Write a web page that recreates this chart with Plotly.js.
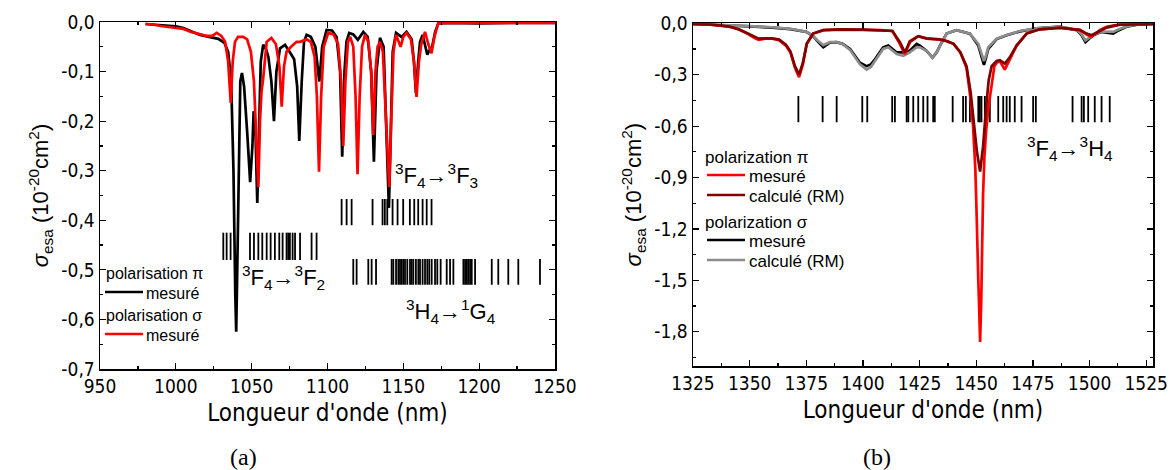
<!DOCTYPE html>
<html>
<head>
<meta charset="utf-8">
<script src="https://cdn.plot.ly/plotly-3.0.1.min.js"></script>
<style>html,body{margin:0;padding:0;background:#fff;}#chart{width:1170px;height:470px;}</style>
</head>
<body>
<div id="chart"></div>
<script>
// ---------- Panel (a): 950–1250 nm ----------
const lambdaPiA = [980,990,1000,1005,1010,1016,1022,1028,1032,1034.5,1036.5,1038,1039.2,1039.8,1040.5,1041.5,1042.5,1043.6,1045,1047,1049,1050.5,1051.3,1052.5,1053.7,1055,1056,1057.6,1059.5,1061,1063,1064.7,1066.3,1068.7,1072,1075,1078,1080,1081.4,1083,1084.5,1086.2,1089,1092,1094.6,1096.5,1099.4,1103,1106,1108.3,1109.7,1111.2,1112.5,1114.3,1117,1120,1123.6,1126.5,1128.8,1130.6,1132.3,1134.6,1137,1138.6,1139.5,1140.5,1141.5,1143,1145.2,1148.8,1152.1,1155.5,1157,1158.3,1159.8,1161,1162.7,1164.3,1165.8,1167.5,1169,1171,1173,1180,1200,1220,1250];
const sigmaPiA  = [-0.004,-0.006,-0.009,-0.012,-0.018,-0.026,-0.03,-0.034,-0.042,-0.06,-0.12,-0.3,-0.55,-0.625,-0.5,-0.25,-0.12,-0.103,-0.13,-0.22,-0.323,-0.25,-0.18,-0.22,-0.365,-0.2,-0.08,-0.046,-0.055,-0.07,-0.12,-0.2,-0.1,-0.053,-0.046,-0.06,-0.075,-0.13,-0.24,-0.12,-0.04,-0.026,-0.03,-0.05,-0.12,-0.05,-0.016,-0.017,-0.03,-0.1,-0.272,-0.1,-0.04,-0.022,-0.025,-0.036,-0.02,-0.03,-0.1,-0.282,-0.1,-0.032,-0.05,-0.2,-0.3,-0.375,-0.25,-0.06,-0.022,-0.03,-0.02,-0.035,-0.08,-0.143,-0.08,-0.04,-0.026,-0.045,-0.066,-0.055,-0.05,-0.02,-0.003,-0.002,-0.003,-0.002,-0.002];

const lambdaSigmaA = [980,985,990,995,1000,1005,1010,1016,1020,1024,1027,1030,1032.5,1034.5,1036.2,1037.5,1039,1041,1044.5,1047,1049.5,1051.5,1053,1054.4,1055.5,1056.5,1057.5,1058.7,1059.9,1063,1066,1068.3,1069.8,1071.3,1073,1076,1079.6,1082,1086.2,1089,1091.5,1093,1094.4,1095.8,1097.5,1100.5,1104,1107,1109,1110.4,1111.8,1113.5,1115,1117,1118.5,1119.8,1121.2,1122.8,1124.7,1127,1128.8,1130.2,1131.6,1133,1134.6,1136.5,1138,1139.4,1140.7,1142,1143.5,1145.2,1146.5,1148.2,1150,1152.1,1155,1157,1158.7,1160.3,1161.8,1164.3,1166.5,1168.6,1170.5,1173,1180,1200,1220,1250];
const sigmaSigmaA  = [-0.004,-0.005,-0.008,-0.01,-0.012,-0.014,-0.02,-0.025,-0.028,-0.028,-0.022,-0.028,-0.04,-0.08,-0.163,-0.08,-0.04,-0.03,-0.03,-0.035,-0.06,-0.12,-0.25,-0.333,-0.2,-0.14,-0.117,-0.07,-0.04,-0.032,-0.045,-0.09,-0.171,-0.09,-0.06,-0.05,-0.04,-0.04,-0.035,-0.04,-0.07,-0.15,-0.302,-0.15,-0.05,-0.022,-0.025,-0.045,-0.12,-0.25,-0.12,-0.04,-0.03,-0.05,-0.15,-0.307,-0.15,-0.05,-0.026,-0.04,-0.1,-0.228,-0.1,-0.05,-0.04,-0.06,-0.15,-0.254,-0.333,-0.2,-0.06,-0.026,-0.035,-0.05,-0.03,-0.022,-0.035,-0.08,-0.151,-0.08,-0.045,-0.02,-0.045,-0.063,-0.03,-0.003,-0.002,-0.002,-0.002,-0.002];

// transition positions (nm)
const lines3F2 = [1031.3,1033.5,1036.1,1048.9,1051.5,1054.4,1057.0,1059.9,1062.5,1065.3,1068.2,1070.4,1073.0,1074.1,1075.2,1077.0,1078.6,1081.9,1089.5,1092.8];
const lines3F3 = [1109.3,1112.6,1115.9,1129.7,1136.3,1137.8,1139.4,1142.9,1146.2,1149.9,1154.3,1157.2,1159.8,1162.7,1165.4,1168.6];
const lines1G4 = [1117.0,1119.2,1126.9,1129.1,1132.0,1142.3,1143.4,1145.2,1146.7,1147.8,1148.9,1150.0,1151.1,1152.6,1154.4,1155.5,1156.6,1158.3,1159.9,1161.0,1162.7,1164.3,1165.8,1167.1,1168.7,1170.9,1172.4,1174.6,1178.6,1180.8,1183.0,1189.6,1190.7,1191.8,1192.8,1194.0,1195.1,1197.3,1208.3,1212.6,1219.2,1225.8,1240.1];

const yTickValsA = [0,-0.1,-0.2,-0.3,-0.4,-0.5,-0.6,-0.7];
const yTickTextA = ["0,0","-0,1","-0,2","-0,3","-0,4","-0,5","-0,6","-0,7"];

// ---------- Panel (b): 1325–1525 nm ----------
const lambdaPiMesB = [1325,1333,1341,1345,1349,1352,1354,1357,1360,1363,1366,1368,1370,1371.8,1373.5,1375.2,1378,1382.5,1390,1400,1408,1413,1416.3,1418.5,1420.7,1424.4,1428.1,1434,1437,1440,1443,1445.7,1447.3,1448.6,1449.6,1450.2,1450.5,1450.9,1451.2,1451.7,1452.2,1452.6,1453.0,1453.6,1454.4,1455.5,1456.8,1458,1459,1460.4,1462.6,1464.7,1467.8,1472.2,1478,1487,1495.7,1498.7,1500.9,1504.5,1507.5,1513.4,1528];
const sigmaPiMesB  = [-0.004,-0.008,-0.02,-0.035,-0.06,-0.085,-0.096,-0.09,-0.09,-0.098,-0.13,-0.17,-0.26,-0.314,-0.24,-0.12,-0.06,-0.04,-0.037,-0.038,-0.04,-0.045,-0.12,-0.18,-0.11,-0.075,-0.09,-0.096,-0.105,-0.12,-0.17,-0.26,-0.42,-0.6,-0.85,-1.13,-1.42,-1.5,-1.62,-1.86,-1.62,-1.3,-1.0,-0.78,-0.62,-0.48,-0.345,-0.25,-0.23,-0.22,-0.27,-0.21,-0.13,-0.06,-0.035,-0.027,-0.04,-0.066,-0.08,-0.04,-0.02,-0.006,-0.003];

const lambdaPiCalB = [1325,1333,1341,1345,1349,1352,1354,1357,1360,1363,1366,1368,1370,1371.8,1373.5,1375.2,1378,1382.5,1390,1400,1408,1413,1416.3,1418.5,1420.7,1424.4,1428.1,1434,1437,1440,1443,1445.7,1447.5,1449,1450.3,1451.7,1453,1454.3,1455.5,1456.8,1458,1459,1460.4,1462.6,1464.7,1467.8,1472.2,1478,1487,1495.7,1498.7,1500.9,1504.5,1507.5,1513.4,1528];
const sigmaPiCalB  = [-0.003,-0.007,-0.019,-0.034,-0.058,-0.08,-0.09,-0.088,-0.088,-0.095,-0.125,-0.165,-0.25,-0.3,-0.23,-0.12,-0.06,-0.04,-0.036,-0.037,-0.04,-0.045,-0.11,-0.17,-0.105,-0.075,-0.088,-0.094,-0.103,-0.12,-0.17,-0.25,-0.4,-0.6,-0.75,-0.865,-0.72,-0.5,-0.33,-0.25,-0.23,-0.22,-0.215,-0.235,-0.2,-0.13,-0.06,-0.035,-0.026,-0.038,-0.06,-0.07,-0.045,-0.025,-0.008,-0.003];

const lambdaSigB = [1325,1335,1350,1360,1368,1375,1378,1380,1382.5,1385.4,1388.4,1391,1394.3,1398.7,1401.6,1403.5,1405.3,1408.9,1411.2,1414.9,1417.8,1420.7,1423.7,1425.1,1428,1430.7,1432.5,1434,1436.9,1441.3,1447.2,1450.9,1452.5,1453.4,1454.3,1455.3,1459,1463.4,1469.3,1476.6,1486.9,1494.3,1496.5,1498.2,1499.8,1501.6,1505.3,1508,1510.4,1513,1516.3,1521,1528];
const sigmaSigMesB = [-0.004,-0.008,-0.018,-0.025,-0.034,-0.05,-0.075,-0.105,-0.14,-0.113,-0.11,-0.12,-0.15,-0.23,-0.25,-0.24,-0.21,-0.14,-0.13,-0.17,-0.17,-0.16,-0.12,-0.13,-0.16,-0.2,-0.17,-0.13,-0.06,-0.04,-0.06,-0.13,-0.2,-0.243,-0.2,-0.15,-0.092,-0.07,-0.047,-0.03,-0.02,-0.04,-0.07,-0.11,-0.09,-0.07,-0.05,-0.055,-0.06,-0.04,-0.02,-0.008,-0.004];
const sigmaSigCalB = [-0.003,-0.007,-0.016,-0.023,-0.032,-0.05,-0.075,-0.1,-0.127,-0.11,-0.11,-0.12,-0.155,-0.24,-0.27,-0.255,-0.22,-0.15,-0.14,-0.18,-0.19,-0.17,-0.14,-0.14,-0.16,-0.2,-0.17,-0.13,-0.06,-0.04,-0.06,-0.12,-0.19,-0.22,-0.19,-0.14,-0.09,-0.068,-0.045,-0.03,-0.02,-0.038,-0.065,-0.1,-0.085,-0.068,-0.048,-0.05,-0.05,-0.035,-0.018,-0.007,-0.003];

const lines3H4 = [1371.5,1382.2,1388.4,1399.7,1401.9,1412.9,1414.1,1419.3,1420.0,1422.2,1424.4,1426.6,1428.5,1431.0,1431.7,1439.6,1444.2,1445.4,1447.2,1450.9,1451.6,1452.3,1453.8,1456.0,1459.7,1461.9,1463.4,1464.8,1467.0,1470.0,1475.1,1476.3,1492.5,1496.5,1497.5,1499.4,1502.3,1505.3,1508.9];

const yTickValsB = [0,-0.3,-0.6,-0.9,-1.2,-1.5,-1.8];
const yTickTextB = ["0,0","-0,3","-0,6","-0,9","-1,2","-1,5","-1,8"];

// legend texts
const legendTextA = ["polarisation π", "mesuré", "polarisation σ", "mesuré"];
const legendTextB = ["polarization π", "mesuré", "calculé (RM)", "polarization σ", "mesuré", "calculé (RM)"];

// ---------- helpers ----------
function sticks(xs, y0, y1) {
  const x = [], y = [];
  xs.forEach(v => { x.push(v, v, null); y.push(y0, y1, null); });
  return {x, y};
}
const NARROW = '"Liberation Sans Narrow", "Arial Narrow", "DejaVu Sans Condensed", sans-serif';
const SANS = '"Liberation Sans", Arial, sans-serif';
const SERIF = '"Liberation Serif", "DejaVu Serif", serif';

// pixel -> paper helpers (plot area: x 100..1153, y 22..369)
const M = {l: 100, r: 17, t: 22, b: 101};
const PW = 1170 - M.l - M.r, PH = 470 - M.t - M.b;
const px = v => (v - M.l) / PW;
const py = v => (470 - M.b - v) / PH;

const s1 = sticks(lines3F2, -0.425, -0.48);
const s2 = sticks(lines3F3, -0.357, -0.41);
const s3 = sticks(lines1G4, -0.478, -0.53);
const s4 = sticks(lines3H4, -0.424, -0.578);

const COL = {piA: '#000000', sigA: '#ff0000', piMes: '#ff0000', piCal: '#800000', sigMes: '#000000', sigCal: '#8c8c8c'};
const stickStyle = {color: '#000', width: 1.8};
const W = 2.7;
const traces = [
  {x: s1.x, y: s1.y, xaxis: 'x', yaxis: 'y', mode: 'lines', line: stickStyle, hoverinfo: 'skip'},
  {x: s2.x, y: s2.y, xaxis: 'x', yaxis: 'y', mode: 'lines', line: stickStyle, hoverinfo: 'skip'},
  {x: s3.x, y: s3.y, xaxis: 'x', yaxis: 'y', mode: 'lines', line: stickStyle, hoverinfo: 'skip'},
  {x: lambdaPiA, y: sigmaPiA, xaxis: 'x', yaxis: 'y', mode: 'lines', name: 'polarisation π – mesuré', line: {color: COL.piA, width: W}},
  {x: lambdaSigmaA, y: sigmaSigmaA, xaxis: 'x', yaxis: 'y', mode: 'lines', name: 'polarisation σ – mesuré', line: {color: COL.sigA, width: W}},

  {x: s4.x, y: s4.y, xaxis: 'x2', yaxis: 'y2', mode: 'lines', line: stickStyle, hoverinfo: 'skip'},
  {x: lambdaSigB, y: sigmaSigMesB, xaxis: 'x2', yaxis: 'y2', mode: 'lines', name: 'polarization σ – mesuré', line: {color: COL.sigMes, width: W}},
  {x: lambdaSigB, y: sigmaSigCalB, xaxis: 'x2', yaxis: 'y2', mode: 'lines', name: 'polarization σ – calculé (RM)', line: {color: COL.sigCal, width: W}},
  {x: lambdaPiMesB, y: sigmaPiMesB, xaxis: 'x2', yaxis: 'y2', mode: 'lines', name: 'polarization π – mesuré', line: {color: COL.piMes, width: W}},
  {x: lambdaPiCalB, y: sigmaPiCalB, xaxis: 'x2', yaxis: 'y2', mode: 'lines', name: 'polarization π – calculé (RM)', line: {color: COL.piCal, width: W}}
];

const axisCommon = {
  showline: true, linecolor: '#000', linewidth: 1.5, mirror: 'ticks',
  ticks: 'inside', ticklen: 6, tickwidth: 1.2, tickcolor: '#000',
  showgrid: false, zeroline: false,
  tickfont: {family: NARROW, size: 19, color: '#000'}
};
const xTitle = {text: "Longueur d'onde (nm)", font: {family: NARROW, size: 24, color: '#000'}, standoff: 8};
const yTitle = {text: '<i>σ</i><sub>esa</sub> (10<sup>-20</sup>cm<sup>2</sup>)', font: {family: SANS, size: 22, color: '#000'}, standoff: 6};

// manual legends (rows: [text, lineColor or null, y pixel])
const legRowsA = [[legendTextA[0], null, 273], [legendTextA[1], COL.piA, 293], [legendTextA[2], null, 315], [legendTextA[3], COL.sigA, 335]];
const legRowsB = [[legendTextB[0], null, 157], [legendTextB[1], COL.piMes, 176], [legendTextB[2], COL.piCal, 196],
                  [legendTextB[3], null, 222], [legendTextB[4], COL.sigMes, 241], [legendTextB[5], COL.sigCal, 261]];
const legAnn = [], legShapes = [];
function addLegend(rows, x0, lineX0, lineX1, textX, size) {
  rows.forEach(([t, c, y]) => {
    if (c === null) {
      legAnn.push({xref: 'paper', yref: 'paper', x: px(x0), y: py(y), xanchor: 'left', yanchor: 'middle', text: t, showarrow: false, font: {family: SANS, size: size, color: '#000'}});
    } else {
      legShapes.push({type: 'line', xref: 'paper', yref: 'paper', x0: px(lineX0), x1: px(lineX1), y0: py(y - 1), y1: py(y - 1), line: {color: c, width: W}});
      legAnn.push({xref: 'paper', yref: 'paper', x: px(textX), y: py(y), xanchor: 'left', yanchor: 'middle', text: t, showarrow: false, font: {family: SANS, size: size, color: '#000'}});
    }
  });
}
addLegend(legRowsA, 104, 105, 143, 144, 16);
addLegend(legRowsB, 703, 707, 745, 747, 17);

const annFont = {family: SANS, size: 22, color: '#000'};
const layout = {
  width: 1170, height: 470,
  margin: M,
  paper_bgcolor: '#fff', plot_bgcolor: '#fff',
  separators: ', ',
  showlegend: false,
  xaxis: Object.assign({}, axisCommon, {domain: [0, px(555)], range: [950, 1250], dtick: 50, tick0: 950,
    minor: {ticks: 'inside', ticklen: 3, tickcolor: '#000', dtick: 25}, title: xTitle, anchor: 'y'}),
  yaxis: Object.assign({}, axisCommon, {domain: [0, 1], range: [-0.7, 0], tickvals: yTickValsA, ticktext: yTickTextA,
    minor: {ticks: 'inside', ticklen: 3, tickcolor: '#000', dtick: 0.05, tick0: 0}, title: yTitle, anchor: 'x'}),
  xaxis2: Object.assign({}, axisCommon, {domain: [px(693), 1], range: [1325, 1528], dtick: 25, tick0: 1325,
    minor: {ticks: 'inside', ticklen: 3, tickcolor: '#000', dtick: 12.5}, title: xTitle, anchor: 'y2'}),
  yaxis2: Object.assign({}, axisCommon, {domain: [py(366), py(23.3)], range: [-2.0, 0], tickvals: yTickValsB, ticktext: yTickTextB,
    minor: {ticks: 'inside', ticklen: 3, tickcolor: '#000', dtick: 0.15, tick0: 0}, title: yTitle, anchor: 'x2'}),
  shapes: legShapes,
  annotations: [
    {xref: 'x', yref: 'y', x: 1172, y: -0.31, text: '<sup>3</sup>F<sub>4</sub>→<sup>3</sup>F<sub>3</sub>', showarrow: false, font: annFont},
    {xref: 'x', yref: 'y', x: 1071, y: -0.516, text: '<sup>3</sup>F<sub>4</sub>→<sup>3</sup>F<sub>2</sub>', showarrow: false, font: annFont},
    {xref: 'x', yref: 'y', x: 1181.4, y: -0.585, text: '<sup>3</sup>H<sub>4</sub>→<sup>1</sup>G<sub>4</sub>', showarrow: false, font: annFont},
    {xref: 'x2', yref: 'y2', x: 1491.3, y: -0.728, text: '<sup>3</sup>F<sub>4</sub>→<sup>3</sup>H<sub>4</sub>', showarrow: false, font: annFont},
    {xref: 'paper', yref: 'paper', x: px(243), y: py(457), xanchor: 'center', yanchor: 'middle', text: '(a)', showarrow: false, font: {family: SERIF, size: 24, color: '#000'}},
    {xref: 'paper', yref: 'paper', x: px(877), y: py(457), xanchor: 'center', yanchor: 'middle', text: '(b)', showarrow: false, font: {family: SERIF, size: 24, color: '#000'}}
  ].concat(legAnn)
};

Plotly.newPlot('chart', traces, layout, {staticPlot: true, displayModeBar: false});
</script>
</body>
</html>
